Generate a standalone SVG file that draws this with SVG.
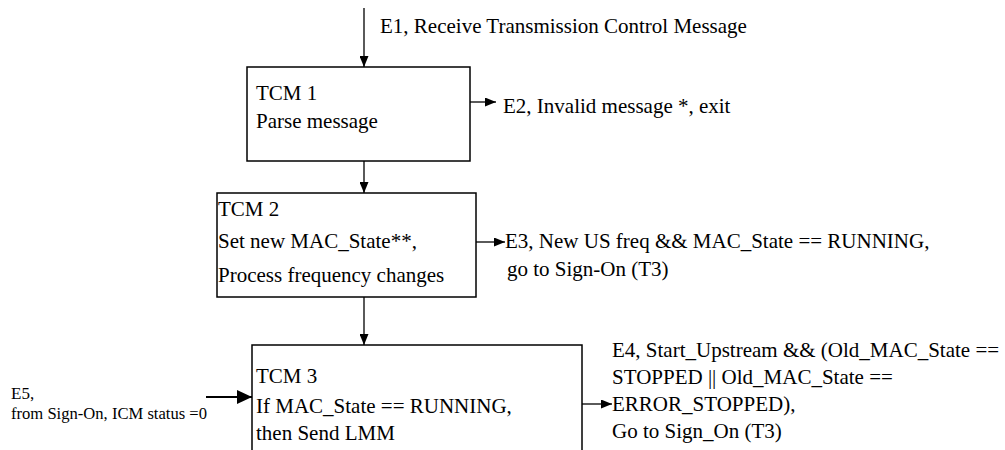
<svg xmlns="http://www.w3.org/2000/svg" width="1005" height="450" viewBox="0 0 1005 450">
<style>
.box{fill:#fff;stroke:#000;stroke-width:1.5}
.t{font-family:"Liberation Serif","Times New Roman",serif;font-size:21px;fill:#000}
.s{font-size:17px}
.c{stroke:#000;stroke-width:1.3;fill:none}
.cb{stroke:#000;stroke-width:2;fill:none}
</style>
<defs>
<marker id="ah" markerWidth="11" markerHeight="9" refX="11" refY="4.5" orient="auto" markerUnits="userSpaceOnUse"><path d="M0,0 L11,4.5 L0,9 Z" fill="#000"/></marker>
<marker id="ahb" markerWidth="15" markerHeight="14" refX="15" refY="7" orient="auto" markerUnits="userSpaceOnUse"><path d="M0,0 L15,7 L0,14 Z" fill="#000"/></marker>
</defs>
<g id="connectors">
<path class="c" d="M364,8 V67" marker-end="url(#ah)"/>
<path class="c" d="M364,161 V193" marker-end="url(#ah)"/>
<path class="c" d="M364,297 V345" marker-end="url(#ah)"/>
<path class="c" d="M470,102 H496" marker-end="url(#ah)"/>
<path class="c" d="M476,242 H505" marker-end="url(#ah)"/>
<path class="c" d="M582,404 H612" marker-end="url(#ah)"/>
<path class="cb" d="M206,397 H252" marker-end="url(#ahb)"/>
</g>
<g id="tcm1">
<rect class="box" x="247" y="67" width="223" height="94"/>
<text class="t" x="256" y="100">TCM 1</text>
<text class="t" x="256" y="128">Parse message</text>
</g>
<g id="tcm2">
<rect class="box" x="217" y="193" width="259" height="104"/>
<text class="t" x="218" y="216">TCM 2</text>
<text class="t" x="218" y="248">Set new MAC_State**,</text>
<text class="t" x="218" y="282">Process frequency changes</text>
</g>
<g id="tcm3">
<rect class="box" x="252" y="345" width="330" height="115"/>
<text class="t" x="256" y="383">TCM 3</text>
<text class="t" x="256" y="413">If MAC_State == RUNNING,</text>
<text class="t" x="256" y="440">then Send LMM</text>
</g>
<g id="labels">
<text class="t" x="380" y="33">E1, Receive Transmission Control Message</text>
<text class="t" x="503" y="113">E2, Invalid message *, exit</text>
<text class="t" x="505" y="248">E3, New US freq &amp;&amp; MAC_State == RUNNING,</text>
<text class="t" x="507" y="276">go to Sign-On (T3)</text>
<text class="t" x="612" y="357">E4, Start_Upstream &amp;&amp; (Old_MAC_State ==</text>
<text class="t" x="612" y="384">STOPPED || Old_MAC_State ==</text>
<text class="t" x="612" y="411">ERROR_STOPPED),</text>
<text class="t" x="612" y="438">Go to Sign_On (T3)</text>
<text class="t s" x="11" y="399">E5,</text>
<text class="t s" x="11" y="419" textLength="196" lengthAdjust="spacingAndGlyphs">from Sign-On, ICM status =0</text>
</g>
</svg>
